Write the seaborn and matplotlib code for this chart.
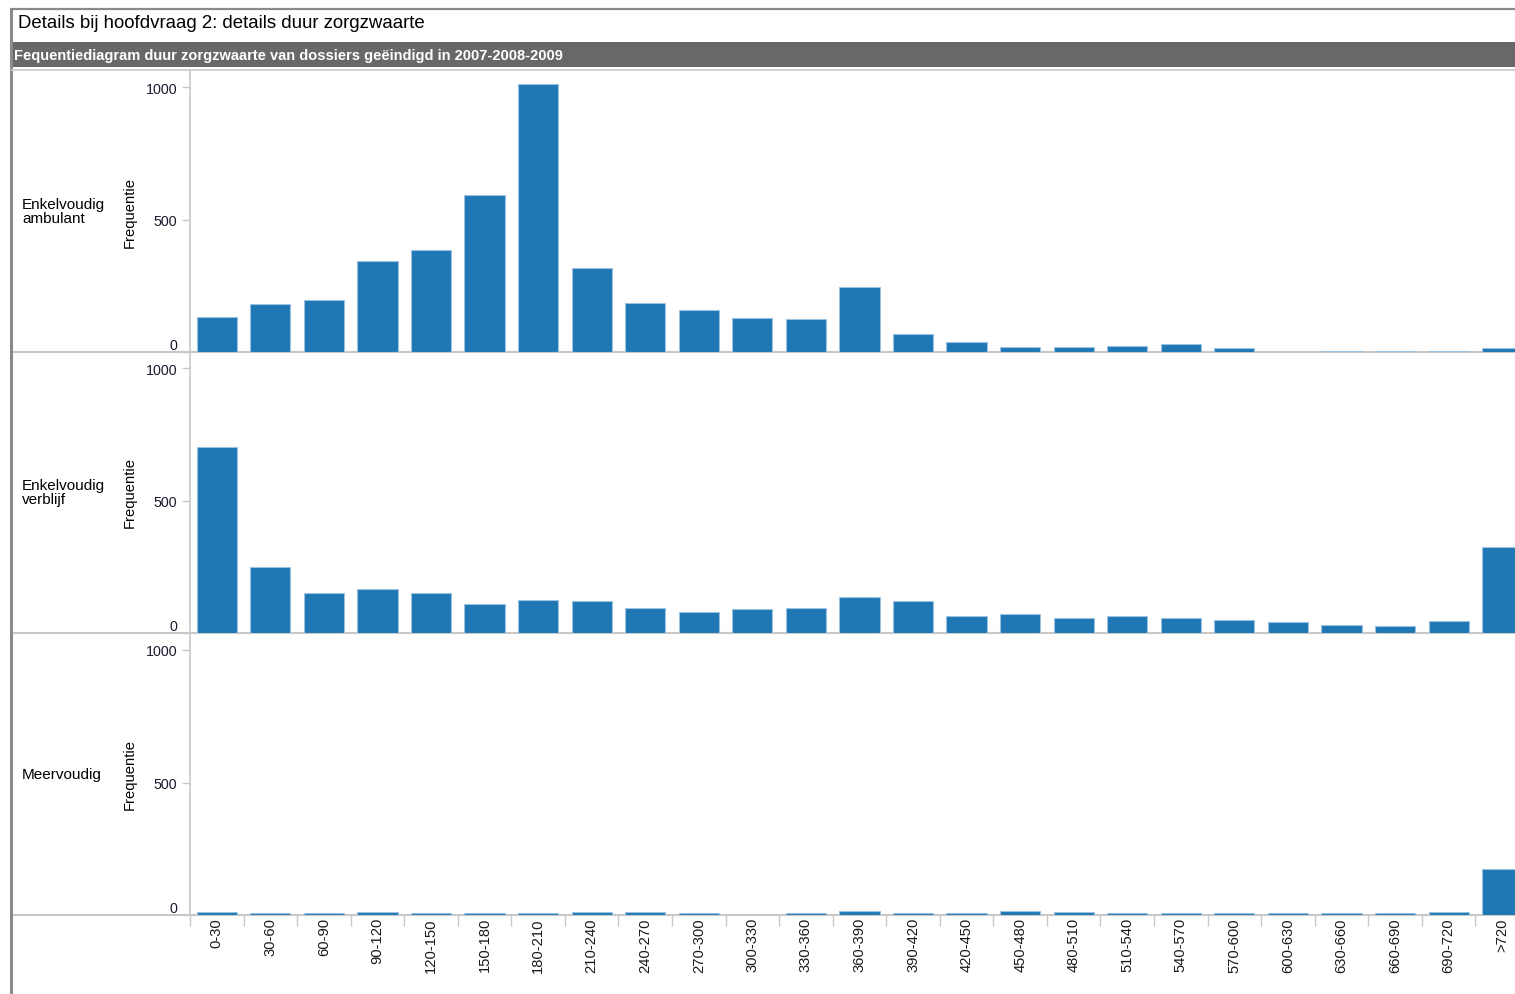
import numpy as np
import pandas as pd
import matplotlib
matplotlib.use("Agg")
import matplotlib.pyplot as plt
from matplotlib.lines import Line2D
from matplotlib.patches import Rectangle
import seaborn as sns

# Duration classes (days)
categories = ["0-30", "30-60", "60-90", "90-120", "120-150", "150-180", "180-210",
              "210-240", "240-270", "270-300", "300-330", "330-360", "360-390",
              "390-420", "420-450", "450-480", "480-510", "510-540", "540-570",
              "570-600", "600-630", "630-660", "660-690", "690-720", ">720"]

enkelvoudig_ambulant = [132, 181, 196, 343, 385, 592, 1011, 317, 185, 158, 128, 125, 245,
                        69, 38, 18, 18, 23, 29, 14, 0, 5, 5, 5, 14]
enkelvoudig_verblijf = [702, 248, 151, 166, 151, 111, 126, 121, 96, 80, 91, 96, 137,
                        122, 65, 70, 57, 65, 57, 50, 40, 30, 25, 45, 323]
meervoudig = [12, 6, 6, 12, 6, 6, 6, 12, 12, 6, 0, 6, 15,
              6, 6, 15, 11, 6, 6, 6, 6, 6, 6, 11, 172]

row_labels = ["Enkelvoudig\nambulant", "Enkelvoudig\nverblijf", "Meervoudig"]
series = [enkelvoudig_ambulant, enkelvoudig_verblijf, meervoudig]
y_ticks = [0, 500, 1000]

title = "Details bij hoofdvraag 2: details duur zorgzwaarte"
subtitle = "Fequentiediagram duur zorgzwaarte van dossiers geëindigd in 2007-2008-2009"
y_title = "Frequentie"

sns.set_theme(style="white")
plt.rcParams["font.family"] = ["Liberation Sans", "DejaVu Sans"]

W, H = 1515, 995
fig = plt.figure(figsize=(W / 100, H / 100), dpi=100)
fig.patch.set_facecolor("white")


def fx(px):
    return px / W


def fy(py):
    return 1 - py / H


bar_blue = "#1f77b4"
grid_gray = "#c8c8c8"
frame_gray = "#8a8a8a"

# Outer frame and header
fig.add_artist(Line2D([fx(11), fx(11)], [fy(10), fy(995)], color=frame_gray, lw=2.2))
fig.add_artist(Line2D([fx(11), 1], [fy(10), fy(10)], color=frame_gray, lw=1.6))
fig.text(fx(18), fy(24), title, fontsize=13.4, color="black", va="center", ha="left")
fig.add_artist(Rectangle((fx(11), fy(68)), 1 - fx(11), fy(43) - fy(68),
                         facecolor="#686868", edgecolor="none", transform=fig.transFigure))
fig.text(fx(14), fy(56), subtitle, fontsize=10.5, fontweight="bold", color="white",
         va="center", ha="left")
fig.add_artist(Line2D([fx(11), 1], [fy(71), fy(71)], color=grid_gray, lw=1.2))

panel_tops = [71, 352, 634]
panel_h = 282
ymax = panel_h / 0.265
left_px = 190

for i, (lab, vals) in enumerate(zip(row_labels, series)):
    top = panel_tops[i]
    bottom = top + panel_h
    # Row separator spanning the label column, drawn beneath the bars
    fig.add_artist(Line2D([fx(11), 1], [fy(bottom), fy(bottom)], color=grid_gray,
                          lw=1.5, zorder=-1))

    ax = fig.add_axes([fx(left_px), fy(bottom), 1 - fx(left_px), panel_h / H])
    ax.set_facecolor("none")
    df = pd.DataFrame({"duur": categories, "freq": vals})
    sns.barplot(data=df, x="duur", y="freq", order=categories, color=bar_blue,
                saturation=1, width=0.75, edgecolor="#9cc2e2", linewidth=0.8, ax=ax)
    ax.set_xlabel("")
    ax.set_ylabel("")
    for s in ["top", "right"]:
        ax.spines[s].set_visible(False)
    ax.spines["left"].set_color(grid_gray)
    ax.spines["left"].set_linewidth(1.2)
    ax.spines["bottom"].set_visible(False)

    ax.set_yticks(y_ticks)
    ax.set_yticklabels([str(t) for t in y_ticks])
    ax.tick_params(axis="y", direction="out", length=6, width=1, color=grid_gray,
                   pad=3, labelsize=10.3, labelcolor="#1a1a2e", left=True)
    ax.get_yticklabels()[0].set_va("bottom")

    if i == 2:
        ax.set_xticks(range(len(categories)))
        ax.set_xticklabels(categories, rotation=90, va="top", ha="center")
        ax.set_xticks(np.arange(-0.5, len(categories), 1.0), minor=True)
        ax.tick_params(axis="x", which="major", length=0, pad=1.5, labelsize=10.6,
                       labelcolor="#1a1a1a", bottom=True)
        ax.tick_params(axis="x", which="minor", length=8, width=1, color=grid_gray,
                       bottom=True)
    else:
        ax.set_xticks([])

    ax.set_xlim(-0.5, 24.24)
    ax.set_ylim(0, ymax)

    mid = (top + bottom) / 2
    fig.text(fx(22), fy(mid), lab, fontsize=11, color="black", va="center", ha="left",
             linespacing=1.0)
    fig.text(fx(130), fy(mid), y_title, fontsize=10.6, color="black", va="center",
             ha="center", rotation=90)

fig.savefig("out.png", dpi=100, facecolor="white")
